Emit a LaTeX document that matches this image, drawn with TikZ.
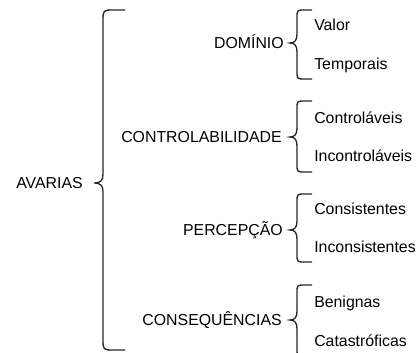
\documentclass[tikz,border=0pt]{standalone}
\usepackage{fontspec}
\setmainfont{Liberation Sans}

% curly brace: x of the stem, top, tip, bottom, tip depth, arm length, corner
\newcommand{\curly}[7]{%
  \draw[brc] ({#1+#6},#2) -- ({#1+#7},#2) .. controls (#1,#2) .. (#1,{#2+#7})
    -- (#1,{#3-9})
    .. controls (#1,{#3-3}) and ({#1-2},#3) .. ({#1-#5},#3)
    .. controls ({#1-2},#3) and (#1,{#3+3}) .. (#1,{#3+9})
    -- (#1,{#4-#7}) .. controls (#1,#4) .. ({#1+#7},#4) -- ({#1+#6},#4);}

\tikzset{
  lab/.style={inner sep=0pt, text height=8.5pt, text depth=0pt,
    font=\fontsize{11.9}{14}\selectfont, text=black},
  brc/.style={line width=1pt, black!85}
}

\begin{document}
\begin{tikzpicture}[x=0.75pt, y=-0.75pt]
\useasboundingbox (0,0) rectangle (418,353);

% root
\node[lab, anchor=east] (avarias) at (83,183) {AVARIAS};
\curly{103}{10}{183}{350}{9}{22}{11}

% groups
\node[lab, anchor=east] (dominio) at (284,43) {DOMÍNIO};
\node[lab, anchor=east] (controlo) at (282,137) {CONTROLABILIDADE};
\node[lab, anchor=east] (percepcao) at (283,230) {PERCEPÇÃO};
\node[lab, anchor=east] (consequencias) at (282,320) {CONSEQUÊNCIAS};

\curly{297}{10}{43}{79}{7}{15}{8}
\curly{297}{101}{137}{172}{7}{15}{8}
\curly{297}{194}{230}{262}{7}{15}{8}
\curly{297}{285}{320}{356}{7}{15}{8}

% leaves
\node[lab, anchor=west] (valor) at (314,25) {Valor};
\node[lab, anchor=west] (temporais) at (314,64) {Temporais};
\node[lab, anchor=west] (control) at (314,118) {Controláveis};
\node[lab, anchor=west] (incontrol) at (314,156) {Incontroláveis};
\node[lab, anchor=west] (consist) at (314,209) {Consistentes};
\node[lab, anchor=west] (inconsist) at (314,247) {Inconsistentes};
\node[lab, anchor=west] (benignas) at (314,302) {Benignas};
\node[lab, anchor=west] (catastr) at (314,341) {Catastróficas};
\end{tikzpicture}
\end{document}
